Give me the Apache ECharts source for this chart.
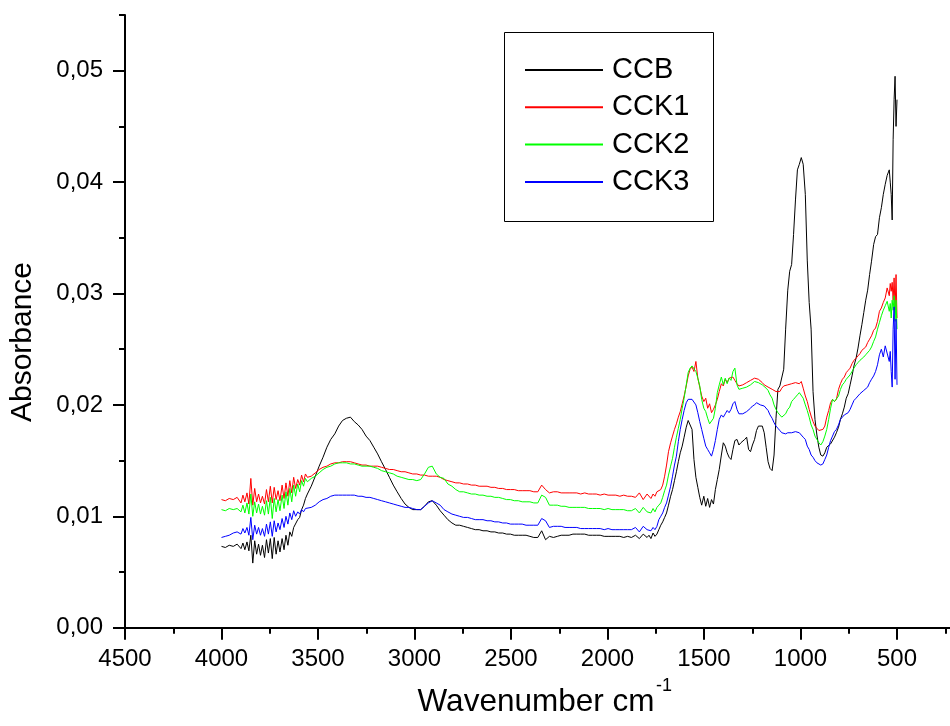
<!DOCTYPE html>
<html>
<head>
<meta charset="utf-8">
<script src="https://cdn.jsdelivr.net/npm/echarts@6/dist/echarts.min.js"></script>
<style>html,body{margin:0;padding:0;background:#fff}#c{width:950px;height:726px}</style>
</head>
<body>
<div id="c"></div>
<script>
const wavenumbers = [
4000,3980,3960,3939,3919,
3909,3899,3889,3879,3868,3858,3848,3838,3828,3818,3808,3798,3788,3777,3767,3757,3747,3737,3727,3717,3707,3697,3686,3676,3666,3656,3646,3636,3626,3616,3605,3595,3585,3575,3565,3555,
3535,3514,3494,3474,3454,3434,3413,3393,3373,3353,3332,3312,3292,3272,3251,3231,3211,3191,3171,3150,3130,3110,3090,3069,3049,3029,3009,2988,2968,2948,2928,2908,2887,2867,2847,2827,2806,2786,2766,2746,2725,2705,2685,2665,2645,2624,2604,2584,2564,2543,2523,2503,2483,2462,2442,2422,2402,2382,2361,2341,2321,2301,2280,2260,2240,2220,2199,2179,2159,2139,2118,2098,2078,2058,2038,2017,1997,1977,1957,1936,1916,1896,1876,1855,1835,1815,1795,
1785,1775,1764,1754,1744,1734,1724,1714,1704,1694,1684,1673,1663,1653,1643,1633,1623,1613,1603,1592,1582,1572,1562,1552,1542,1532,1522,1512,1501,1491,1481,1471,1461,1451,1441,1431,1421,1410,1400,1390,1380,1370,1360,1350,1340,1329,1319,1309,1299,1289,1279,1269,1259,1249,1238,1228,1218,1208,1198,1188,1178,1168,1158,1147,1137,1127,1117,1107,1097,1087,1077,1066,
1056,1046,1036,1026,1016,1006,996,986,975,965,955,945,935,925,915,905,895,884,874,864,854,844,834,824,814,803,793,783,773,763,753,743,733,723,712,702,692,682,672,662,652,642,632,621,611,601,591,581,571,
561,551,540,535,530,525,520,515,510,505,500
];

const ccb = [
0.0073,0.0072,0.0074,0.0073,0.0075,
0.0074,0.0071,0.0076,0.0070,0.0077,0.0069,0.0083,0.0058,0.0078,0.0066,0.0075,0.0065,0.0074,0.0063,0.0079,0.0067,0.0080,0.0062,0.0081,0.0066,0.0078,0.0068,0.0080,0.0070,0.0083,0.0074,0.0086,0.0082,0.0090,0.0089,0.0097,0.0099,0.0106,0.0110,0.0116,0.0120,
0.0127,0.0136,0.0145,0.0153,0.0162,0.0169,0.0174,0.0181,0.0186,0.0188,
0.0189,0.0185,0.0182,0.0178,0.0172,0.0168,0.0162,0.0156,0.0149,0.0142,
0.0135,0.0128,0.0122,0.0116,0.0111,0.0108,0.0106,0.0106,0.0106,0.0109,
0.0113,0.0114,0.0110,0.0105,0.0101,0.0097,0.0094,0.0092,0.0092,0.0091,
0.0090,0.0089,0.0088,0.0088,0.0087,0.0087,0.0086,0.0086,0.0085,0.0085,
0.0084,0.0084,0.0083,0.0083,0.0083,0.0083,0.0082,0.0081,0.0081,0.0087,
0.0079,0.0082,0.0081,0.0082,0.0083,0.0083,0.0083,0.0084,0.0084,0.0084,
0.0084,0.0083,0.0083,0.0083,0.0083,0.0082,0.0082,0.0082,0.0082,0.0082,
0.0081,0.0082,0.0081,0.0083,0.0080,0.0084,0.0081,
0.0083,0.0080,0.0085,0.0082,0.0084,0.0088,0.0092,0.0095,0.0099,0.0103,
0.0110,0.0118,0.0124,0.0132,0.0140,0.0149,0.0157,0.0163,0.0171,0.0180,
0.0186,0.0187,0.0178,0.0151,0.0135,0.0126,0.0117,0.0110,0.0118,0.0109,
0.0116,0.0108,0.0115,0.0111,0.0124,0.0133,0.0142,0.0155,0.0166,0.0163,
0.0157,0.0153,0.0151,0.0160,0.0168,0.0169,0.0164,0.0166,0.0166,0.0169,
0.0171,0.0160,0.0158,0.0164,0.0169,0.0177,0.0181,0.0182,0.0181,0.0175,
0.0162,0.0149,0.0143,0.0141,0.0155,0.0188,0.0214,0.0217,0.0218,0.0232,
0.0268,0.0303,
0.0320,0.0326,0.0353,0.0384,0.0411,0.0416,0.0422,0.0416,0.0389,0.0330,
0.0292,0.0268,0.0212,0.0187,0.0173,0.0162,0.0155,0.0154,0.0157,0.0162,
0.0163,0.0165,0.0166,0.0171,0.0175,0.0180,0.0187,0.0192,0.0198,0.0206,
0.0210,0.0218,0.0226,0.0235,0.0242,0.0251,0.0262,0.0272,0.0283,0.0294,
0.0303,0.0317,0.0329,0.0344,0.0351,0.0353,0.0368,0.0377,0.0389,
0.0398,0.0406,0.0411,0.0400,0.0389,0.0366,0.0438,0.0474,0.0495,0.0450,0.0474
];

const cck1 = [
0.0115,0.0114,0.0116,0.0115,0.0117,
0.0116,0.0112,0.0119,0.0113,0.0121,0.0111,0.0134,0.0110,0.0125,0.0113,0.0120,0.0112,0.0118,0.0111,0.0124,0.0113,0.0127,0.0112,0.0126,0.0115,0.0123,0.0114,0.0128,0.0116,0.0130,0.0118,0.0132,0.0121,0.0135,0.0125,0.0133,0.0128,0.0137,0.0131,0.0138,0.0135,
0.0136,0.0139,0.0142,0.0144,0.0145,0.0147,0.0148,0.0148,0.0149,0.0149,
0.0149,0.0148,0.0147,0.0146,0.0146,0.0145,0.0145,0.0145,0.0144,0.0143,
0.0142,0.0142,0.0141,0.0140,0.0140,0.0139,0.0138,0.0138,0.0137,0.0137,
0.0136,0.0136,0.0136,0.0135,0.0133,0.0132,0.0131,0.0130,0.0130,0.0129,
0.0129,0.0128,0.0128,0.0127,0.0127,0.0127,0.0126,0.0126,0.0125,0.0125,
0.0124,0.0124,0.0124,0.0123,0.0123,0.0123,0.0123,0.0122,0.0122,0.0128,
0.0124,0.0121,0.0122,0.0122,0.0121,0.0121,0.0121,0.0121,0.0121,0.0120,
0.0121,0.0120,0.0120,0.0120,0.0119,0.0120,0.0119,0.0119,0.0119,0.0118,
0.0119,0.0118,0.0118,0.0117,0.0121,0.0115,0.0120,
0.0119,0.0116,0.0120,0.0118,0.0122,0.0123,0.0124,0.0128,0.0136,0.0146,
0.0158,0.0166,0.0172,0.0178,0.0183,0.0189,0.0194,0.0201,0.0208,0.0217,
0.0226,0.0232,0.0234,0.0230,0.0239,0.0224,0.0216,0.0208,0.0203,0.0206,
0.0197,0.0201,0.0193,0.0196,0.0200,0.0205,0.0212,0.0219,0.0217,0.0223,
0.0220,0.0224,0.0223,0.0225,0.0222,0.0219,0.0217,0.0217,0.0218,0.0219,
0.0220,0.0221,0.0222,0.0223,0.0224,0.0224,0.0223,0.0222,0.0220,0.0218,
0.0217,0.0216,0.0215,0.0214,0.0213,0.0212,0.0211,0.0212,0.0215,0.0217,
0.0218,0.0218,
0.0219,0.0219,0.0219,0.0220,0.0220,0.0219,0.0221,0.0215,0.0208,0.0203,
0.0196,0.0190,0.0185,0.0181,0.0179,0.0177,0.0176,0.0178,0.0181,0.0189,
0.0195,0.0202,0.0205,0.0203,0.0205,0.0214,0.0219,0.0223,0.0225,0.0229,
0.0231,0.0233,0.0237,0.0240,0.0242,0.0244,0.0246,0.0249,0.0250,0.0252,
0.0256,0.0259,0.0262,0.0267,0.0269,0.0275,0.0284,0.0287,0.0292,
0.0296,0.0305,0.0298,0.0309,0.0302,0.0310,0.0294,0.0314,0.0285,0.0317,0.0278
];

const cck2 = [
0.0106,0.0105,0.0107,0.0106,0.0107,
0.0107,0.0104,0.0110,0.0103,0.0112,0.0102,0.0120,0.0100,0.0113,0.0103,0.0111,0.0102,0.0109,0.0101,0.0114,0.0102,0.0117,0.0098,0.0116,0.0104,0.0115,0.0105,0.0119,0.0107,0.0122,0.0110,0.0125,0.0113,0.0128,0.0118,0.0129,0.0122,0.0132,0.0127,0.0134,0.0131,
0.0134,0.0136,0.0139,0.0142,0.0144,0.0145,0.0147,0.0148,0.0148,0.0148,
0.0147,0.0147,0.0146,0.0145,0.0145,0.0145,0.0144,0.0143,0.0141,0.0140,
0.0139,0.0138,0.0136,0.0135,0.0134,0.0133,0.0133,0.0132,0.0133,0.0138,
0.0144,0.0145,0.0138,0.0135,0.0134,0.0129,0.0127,0.0124,0.0122,0.0122,
0.0121,0.0120,0.0120,0.0119,0.0119,0.0118,0.0118,0.0117,0.0117,0.0116,
0.0115,0.0115,0.0114,0.0114,0.0113,0.0113,0.0113,0.0112,0.0112,0.0119,
0.0117,0.0110,0.0110,0.0110,0.0109,0.0109,0.0108,0.0108,0.0108,0.0108,
0.0108,0.0107,0.0107,0.0107,0.0107,0.0106,0.0107,0.0106,0.0106,0.0106,
0.0106,0.0105,0.0105,0.0107,0.0103,0.0108,0.0104,
0.0105,0.0103,0.0107,0.0104,0.0108,0.0110,0.0112,0.0117,0.0123,0.0128,
0.0137,0.0145,0.0152,0.0162,0.0171,0.0179,0.0187,0.0197,0.0206,0.0218,
0.0229,0.0233,0.0235,0.0234,0.0230,0.0224,0.0217,0.0205,0.0197,0.0194,
0.0188,0.0183,0.0182,0.0188,0.0197,0.0211,0.0218,0.0225,0.0218,0.0224,
0.0219,0.0224,0.0222,0.0230,0.0233,0.0218,0.0214,0.0214,0.0215,0.0215,
0.0216,0.0217,0.0218,0.0219,0.0221,0.0221,0.0220,0.0219,0.0218,0.0217,
0.0215,0.0213,0.0209,0.0206,0.0200,0.0196,0.0193,0.0191,0.0189,0.0189,
0.0192,0.0196,
0.0198,0.0203,0.0205,0.0207,0.0209,0.0211,0.0212,0.0206,0.0200,0.0195,
0.0189,0.0182,0.0178,0.0172,0.0169,0.0166,0.0164,0.0167,0.0172,0.0178,
0.0187,0.0197,0.0205,0.0203,0.0202,0.0208,0.0214,0.0218,0.0220,0.0223,
0.0224,0.0227,0.0230,0.0233,0.0236,0.0238,0.0240,0.0241,0.0243,0.0245,
0.0246,0.0249,0.0252,0.0257,0.0261,0.0268,0.0274,0.0280,0.0285,
0.0289,0.0293,0.0284,0.0291,0.0278,0.0294,0.0285,0.0298,0.0275,0.0294,0.0268
];

const cck3 = [
0.0081,0.0082,0.0083,0.0085,0.0086,
0.0086,0.0084,0.0089,0.0085,0.0090,0.0083,0.0099,0.0079,0.0092,0.0084,0.0090,0.0083,0.0089,0.0082,0.0093,0.0084,0.0095,0.0082,0.0096,0.0086,0.0094,0.0088,0.0098,0.0090,0.0100,0.0093,0.0103,0.0097,0.0105,0.0100,0.0104,0.0102,0.0106,0.0104,0.0107,0.0106,
0.0108,0.0110,0.0113,0.0115,0.0116,0.0118,0.0119,0.0119,0.0119,0.0119,
0.0119,0.0119,0.0118,0.0118,0.0117,0.0117,0.0116,0.0115,0.0114,0.0113,
0.0112,0.0111,0.0110,0.0109,0.0108,0.0108,0.0107,0.0106,0.0106,0.0109,
0.0112,0.0114,0.0112,0.0110,0.0106,0.0104,0.0102,0.0101,0.0100,0.0099,
0.0099,0.0098,0.0097,0.0097,0.0097,0.0096,0.0096,0.0095,0.0095,0.0094,
0.0094,0.0093,0.0093,0.0093,0.0093,0.0092,0.0092,0.0092,0.0092,0.0098,
0.0096,0.0090,0.0091,0.0091,0.0091,0.0090,0.0090,0.0090,0.0090,0.0089,
0.0089,0.0089,0.0089,0.0089,0.0089,0.0088,0.0089,0.0088,0.0088,0.0088,
0.0088,0.0088,0.0088,0.0090,0.0086,0.0091,0.0088,
0.0089,0.0087,0.0090,0.0088,0.0091,0.0097,0.0100,0.0103,0.0108,0.0112,
0.0119,0.0127,0.0136,0.0146,0.0154,0.0167,0.0178,0.0187,0.0195,0.0202,
0.0205,0.0206,0.0205,0.0204,0.0200,0.0193,0.0185,0.0178,0.0170,0.0163,
0.0160,0.0157,0.0154,0.0160,0.0168,0.0178,0.0187,0.0191,0.0189,0.0192,
0.0195,0.0193,0.0196,0.0201,0.0203,0.0196,0.0192,0.0191,0.0192,0.0193,
0.0194,0.0195,0.0197,0.0199,0.0200,0.0202,0.0201,0.0200,0.0199,0.0199,
0.0198,0.0195,0.0191,0.0188,0.0184,0.0181,0.0179,0.0177,0.0175,0.0174,
0.0174,0.0175,
0.0175,0.0175,0.0176,0.0176,0.0175,0.0175,0.0174,0.0171,0.0169,0.0163,
0.0160,0.0155,0.0153,0.0150,0.0148,0.0147,0.0146,0.0147,0.0151,0.0155,
0.0162,0.0168,0.0172,0.0176,0.0178,0.0182,0.0187,0.0189,0.0191,0.0192,
0.0193,0.0196,0.0200,0.0204,0.0206,0.0208,0.0210,0.0211,0.0213,0.0214,
0.0216,0.0220,0.0223,0.0226,0.0230,0.0236,0.0245,0.0250,0.0243,
0.0253,0.0254,0.0239,0.0248,0.0230,0.0216,0.0268,0.0288,0.0223,0.0277,0.0218
];

const seriesNames = ['CCB', 'CCK1', 'CCK2', 'CCK3'];
const seriesColors = ['#000000', '#ff0000', '#00ff00', '#0000ff'];
const seriesValues = [ccb, cck1, cck2, cck3];
const yMajorTicks = [0, 0.01, 0.02, 0.03, 0.04, 0.05];

const FONT = '"Liberation Sans", Arial, sans-serif';
const chart = echarts.init(document.getElementById('c'), null, {renderer: 'canvas'});

const lens = seriesValues.map(a => a.length);
const mismatch = lens.some(l => l !== wavenumbers.length);

const series = seriesNames.map((name, k) => ({
  name: name,
  type: 'line',
  data: wavenumbers.map((w, i) => [w, seriesValues[k][i]]),
  showSymbol: false,
  symbol: 'none',
  lineStyle: {color: seriesColors[k], width: 1},
  itemStyle: {color: seriesColors[k]},
  animation: false,
  z: 2 + k
}));

const fmtY = v => {
  const h = v * 100;
  if (Math.abs(h - Math.round(h)) > 1e-6) return '';
  if (v > 0.0505) return '';
  return v.toFixed(2).replace('.', ',');
};

chart.setOption({
  backgroundColor: '#ffffff',
  animation: false,
  title: mismatch ? {text: 'len ' + wavenumbers.length + ' / ' + lens.join(','), left: 300, top: 300} : undefined,
  grid: {left: 125, top: 15, width: 868.5, height: 612.7, containLabel: false, outerBoundsMode: 'none'},
  xAxis: {
    type: 'value', min: 0, max: 4500, interval: 500, inverse: true,
    axisLine: {show: true, onZero: false, lineStyle: {color: '#000', width: 2}},
    axisTick: {show: true, length: 12, lineStyle: {color: '#000', width: 2}},
    minorTick: {show: true, splitNumber: 2, length: 6, lineStyle: {color: '#000', width: 2}},
    axisLabel: {color: '#000', fontSize: 24, fontFamily: FONT, margin: 20, formatter: v => String(v)},
    splitLine: {show: false}, minorSplitLine: {show: false}
  },
  yAxis: [
    {
      type: 'value', min: 0, max: 0.055, interval: 0.005,
      axisLine: {show: true, onZero: false, lineStyle: {color: '#000', width: 2}},
      axisTick: {show: true, length: 6, lineStyle: {color: '#000', width: 2}},
      axisLabel: {color: '#000', fontSize: 24, fontFamily: FONT, margin: 22, formatter: fmtY},
      splitLine: {show: false}
    },
    {
      type: 'value', min: 0, max: 0.055, interval: 0.01, position: 'left',
      axisLine: {show: false, onZero: false},
      axisTick: {show: true, length: 12, customValues: yMajorTicks, lineStyle: {color: '#000', width: 2}},
      axisLabel: {show: false},
      splitLine: {show: false}
    }
  ],
  legend: {
    data: seriesNames,
    orient: 'vertical', left: 525, top: 55, padding: 0,
    itemWidth: 78, itemHeight: 2, itemGap: 7.3, icon: 'rect',
    textStyle: {color: '#000', fontSize: 29, fontFamily: FONT, lineHeight: 30, padding: [0, 0, 0, 4]},
    selectedMode: false
  },
  graphic: [
    {type: 'rect', shape: {x: 504.5, y: 32.5, width: 209, height: 189}, style: {fill: 'none', stroke: '#000', lineWidth: 1}, z: 10},
    {type: 'text', x: 23, y: 342, rotation: Math.PI / 2, style: {text: 'Absorbance', font: '30px ' + FONT, fill: '#000', align: 'center', verticalAlign: 'middle'}},
    {type: 'text', x: 536, y: 702, style: {text: 'Wavenumber cm', font: '31.5px ' + FONT, fill: '#000', align: 'center', verticalAlign: 'middle'}},
    {type: 'text', x: 656, y: 686, style: {text: '-1', font: '18px ' + FONT, fill: '#000', align: 'left', verticalAlign: 'middle'}}
  ],
  series: series
});
</script>
</body>
</html>
